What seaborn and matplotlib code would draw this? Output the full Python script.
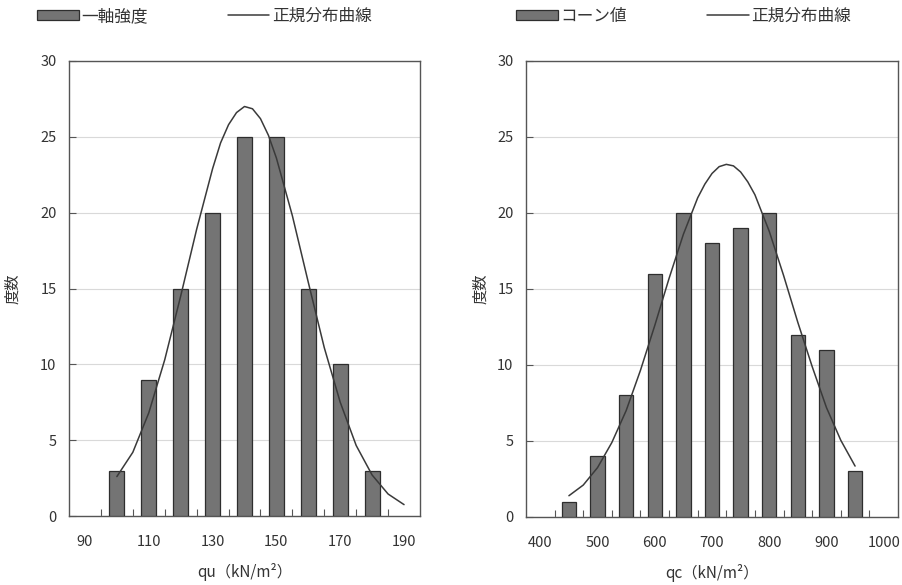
import matplotlib
matplotlib.use("Agg")
import matplotlib.pyplot as plt
import seaborn as sns
import pandas as pd
from matplotlib.patches import Patch
from matplotlib.lines import Line2D

# ---- data ----
qu_classes = [100, 110, 120, 130, 140, 150, 160, 170, 180]
qu_counts = [3, 9, 15, 20, 25, 25, 15, 10, 3]
qu_curve_x = [100, 105, 110, 115, 120, 125, 130, 132.5, 135, 137.5, 140, 142.5, 145,
              147.5, 150, 155, 160, 165, 170, 175, 180, 185, 190]
qu_curve_y = [2.6, 4.2, 6.8, 10.3, 14.5, 18.9, 22.9, 24.6, 25.8, 26.6, 27.0, 26.85,
              26.2, 25.1, 23.6, 19.8, 15.4, 11.1, 7.5, 4.65, 2.7, 1.45, 0.75]
qu_ticks = [90, 110, 130, 150, 170, 190]

qc_classes = [450, 500, 550, 600, 650, 700, 750, 800, 850, 900, 950]
qc_counts = [1, 4, 8, 16, 20, 18, 19, 20, 12, 11, 3]
qc_curve_x = [450, 475, 500, 525, 550, 575, 600, 625, 650, 675, 687.5, 700, 712.5,
              725, 737.5, 750, 762.5, 775, 800, 825, 850, 875, 900, 925, 950]
qc_curve_y = [1.4, 2.1, 3.25, 4.9, 7.0, 9.65, 12.6, 15.7, 18.6, 21.0, 21.9, 22.6,
              23.05, 23.2, 23.1, 22.7, 22.05, 21.2, 18.8, 15.9, 12.8, 9.9, 7.2,
              5.05, 3.35]
qc_ticks = [400, 500, 600, 700, 800, 900, 1000]

y_ticks = [0, 5, 10, 15, 20, 25, 30]

sns.set_theme(style="white")
plt.rcParams['font.family'] = ['Noto Sans CJK JP', 'DejaVu Sans']

BAR = "#747474"
EDGE = "#2e2e2e"
LINE = "#3a3a3a"
TXT = "#333333"

fig = plt.figure(figsize=(9.03, 5.85), dpi=100)
fig.patch.set_facecolor("white")

axL = fig.add_axes([69/903, 1-516/585, 351/903, 455/585])
axR = fig.add_axes([526/903, 1-517/585, 372/903, 456/585])


def draw(ax, classes, counts, cx, cy, ticks, xlim, step, width, xlabel, barname,
         ylab_x, leg_x):
    df = pd.DataFrame({"x": classes, "y": counts})
    sns.barplot(data=df, x="x", y="y", native_scale=True, width=width,
                color=BAR, edgecolor=EDGE, linewidth=0.9, saturation=1, ax=ax,
                zorder=3)
    dc = pd.DataFrame({"x": cx, "y": cy})
    sns.lineplot(data=dc, x="x", y="y", color=LINE, linewidth=1.1, ax=ax,
                 zorder=4, sort=False)
    ax.set_xlim(*xlim)
    ax.set_ylim(0, 30)
    ax.set_yticks(y_ticks)
    ax.set_xticks(ticks)
    minor = []
    v = xlim[0] + step
    while v < xlim[1] - 1e-6:
        minor.append(v)
        v += step
    ax.set_xticks(minor, minor=True)
    ax.tick_params(axis="x", which="major", length=0, pad=14, labelsize=10.5,
                   colors=TXT, bottom=True)
    ax.tick_params(axis="x", which="minor", length=5, direction="in",
                   color="#555555", width=0.8, bottom=True)
    ax.tick_params(axis="y", which="major", length=5, direction="in", pad=9,
                   labelsize=10.5, colors=TXT, color="#555555", width=0.8,
                   left=True)
    for s in ax.spines.values():
        s.set_color("#555555")
        s.set_linewidth(1.0)
        s.set_visible(True)
    ax.yaxis.grid(True, color="#d9d9d9", linewidth=0.8, zorder=0)
    ax.xaxis.grid(False)
    ax.set_axisbelow(True)
    ax.set_xlabel(xlabel, fontsize=11, color=TXT, labelpad=10)
    ax.set_ylabel("度数", fontsize=11, color=TXT)
    ax.yaxis.set_label_coords(ylab_x, 0.5)
    handles = [Patch(facecolor=BAR, edgecolor=EDGE, linewidth=0.9, label=barname),
               Line2D([0], [0], color=LINE, linewidth=1.1, label="正規分布曲線")]
    ax.legend(handles=handles, loc="lower left", bbox_to_anchor=(leg_x, 1.065),
              ncol=2, frameon=False, fontsize=12, handlelength=2.5,
              handleheight=0.55, handletextpad=0.15, columnspacing=4.8,
              borderaxespad=0, labelcolor=TXT)


draw(axL, qu_classes, qu_counts, qu_curve_x, qu_curve_y, qu_ticks, (85, 195), 10,
     0.47, "qu（kN/m²）", "一軸強度", -0.135, -0.11)
draw(axR, qc_classes, qc_counts, qc_curve_x, qc_curve_y, qc_ticks, (375, 1025), 50,
     0.5, "qc（kN/m²）", "コーン値", -0.1, -0.044)

fig.savefig("out.png", dpi=100, facecolor="white")
